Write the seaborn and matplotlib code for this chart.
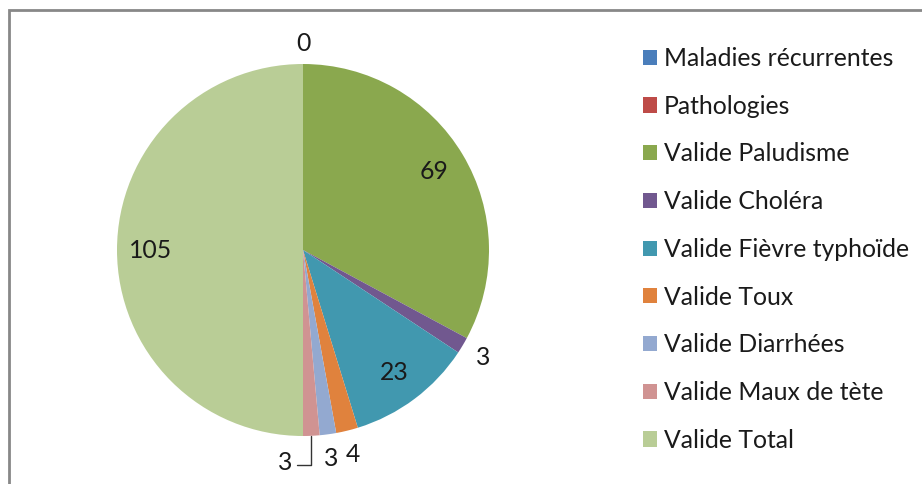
import numpy as np
import matplotlib
matplotlib.use("Agg")
import matplotlib.pyplot as plt
import seaborn as sns
from matplotlib.patches import Rectangle

# data
categories = ['Maladies récurrentes', 'Pathologies', 'Valide Paludisme', 'Valide Choléra',
              'Valide Fièvre typhoïde', 'Valide Toux', 'Valide Diarrhées',
              'Valide Maux de tète', 'Valide Total']
values = [0, 0, 69, 3, 23, 4, 3, 3, 105]
colors = ['#4a7ebb', '#be4b48', '#8aa84e', '#71588f', '#4198af',
          '#e0823d', '#93a9d0', '#d09392', '#b9cd96']

sns.set_theme(style="white")
plt.rcParams['font.family'] = ['Lato', 'DejaVu Sans']
txt_color = '#1a1a1a'
fs = 17.8

fig = plt.figure(figsize=(9.22, 4.84), dpi=100)
fig.patch.set_facecolor('white')

# pie centred at (303, 250) px, radius 186 px
ax = fig.add_axes([117 / 922, 48 / 484, 372 / 922, 372 / 484])
wedges, _ = ax.pie(values, colors=colors, startangle=90, counterclock=False,
                   radius=1.0, wedgeprops=dict(linewidth=0))
ax.set_xlim(-1, 1)
ax.set_ylim(-1, 1)
ax.set_axis_off()

# value labels
total = sum(values)
cum = 0
for i, v in enumerate(values):
    mid = (cum + v / 2) / total * 2 * np.pi   # clockwise from top
    cum += v
    dx, dy = np.sin(mid), np.cos(mid)
    if i == 0:
        ax.text(0, 1.11, '0', ha='center', va='center', fontsize=fs,
                color=txt_color, clip_on=False)
        continue
    if i == 1:
        continue
    if v > 10:
        ax.text(0.82 * dx, 0.82 * dy, str(v), ha='center', va='center',
                fontsize=fs, color=txt_color)
    elif categories[i] == 'Valide Maux de tète':
        # label pushed aside with a leader line
        x0, y0 = dx, dy
        ax.plot([x0, x0, x0 - 0.075], [y0, -1.155, -1.155], color='#333333',
                lw=1, clip_on=False)
        ax.text(x0 - 0.14, -1.14, str(v), ha='center', va='center',
                fontsize=fs, color=txt_color, clip_on=False)
    else:
        r = 1.13
        ax.text(r * dx, r * dy, str(v), ha='center', va='center', fontsize=fs,
                color=txt_color, clip_on=False)

# legend
leg = fig.legend(wedges, categories, loc='upper left',
                 bbox_to_anchor=(643 / 922, 1 - 47 / 484), frameon=False,
                 fontsize=fs, labelspacing=1.0, handlelength=0.57,
                 handleheight=0.57, handletextpad=0.28, borderpad=0,
                 borderaxespad=0)
for t in leg.get_texts():
    t.set_color(txt_color)

# chart area border (only top and left visible)
fig.add_artist(Rectangle((9 / 922, -0.2), 1.2, 1.2 - 10 / 484,
                         transform=fig.transFigure, fill=False,
                         edgecolor='#888888', linewidth=2, clip_on=False))

fig.savefig('out.png', dpi=100)
